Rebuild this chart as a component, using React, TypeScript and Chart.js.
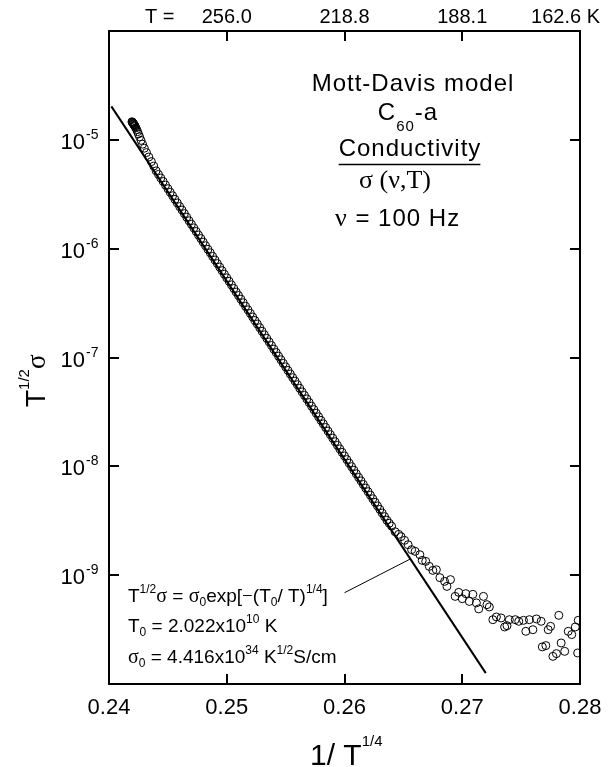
import React, { useEffect, useRef } from 'react';
import { Chart, registerables } from 'chart.js';

Chart.register(...registerables);

const SANS = 'Arial, "Liberation Sans", Helvetica, sans-serif';
const SERIF = '"Times New Roman", "Liberation Serif", "DejaVu Serif", serif';

// ---------- data (x = 1/T^(1/4), y as log10 of T^(1/2)·sigma) ----------
const invT4: number[] = [
  0.24195, 0.24198, 0.24201, 0.24204, 0.24207, 0.24210, 0.24213, 0.24216, 0.24219, 0.24222,
  0.24228, 0.24235, 0.24242, 0.24250, 0.24260, 0.24272, 0.24285, 0.24300, 0.24318, 0.24338,
  0.24360, 0.24380,
  0.2440, 0.2442, 0.2444, 0.2446, 0.2448, 0.2450, 0.2452, 0.2454, 0.2456, 0.2458,
  0.2460, 0.2462, 0.2464, 0.2466, 0.2468, 0.2470, 0.2472, 0.2474, 0.2476, 0.2478,
  0.2480, 0.2482, 0.2484, 0.2486, 0.2488, 0.2490, 0.2492, 0.2494, 0.2496, 0.2498,
  0.2500, 0.2502, 0.2504, 0.2506, 0.2508, 0.2510, 0.2512, 0.2514, 0.2516, 0.2518,
  0.2520, 0.2522, 0.2524, 0.2526, 0.2528, 0.2530, 0.2532, 0.2534, 0.2536, 0.2538,
  0.2540, 0.2542, 0.2544, 0.2546, 0.2548, 0.2550, 0.2552, 0.2554, 0.2556, 0.2558,
  0.2560, 0.2562, 0.2564, 0.2566, 0.2568, 0.2570, 0.2572, 0.2574, 0.2576, 0.2578,
  0.2580, 0.2582, 0.2584, 0.2586, 0.2588, 0.2590, 0.2592, 0.2594, 0.2596, 0.2598,
  0.2600, 0.2602, 0.2604, 0.2606, 0.2608, 0.2610, 0.2612, 0.2614, 0.2616, 0.2618,
  0.2620, 0.2622, 0.2624, 0.2626, 0.2628, 0.2630, 0.2632, 0.2634, 0.2636,
  0.2638, 0.2640, 0.2643, 0.2646, 0.2648, 0.2651, 0.2654, 0.2657, 0.2660, 0.2664,
  0.2666, 0.2669, 0.2672, 0.2675, 0.2678, 0.2681, 0.2685, 0.2687, 0.2690, 0.2694,
  0.2697, 0.2700, 0.2703, 0.2706, 0.2709, 0.2712, 0.2714, 0.2718, 0.2721, 0.2723,
  0.2726, 0.2729, 0.2733, 0.2736, 0.2738, 0.2740, 0.2745, 0.2748, 0.2752, 0.2754,
  0.2757, 0.2760, 0.2763, 0.2767, 0.2768, 0.2771, 0.2773, 0.2775, 0.2777, 0.2780,
  0.2782, 0.2784, 0.2787, 0.2790, 0.2793, 0.2796, 0.2798, 0.27985,
];

const log10SigmaT: number[] = [
  -4.834, -4.838, -4.842, -4.847, -4.852, -4.857, -4.862, -4.867, -4.872, -4.878,
  -4.890, -4.906, -4.925, -4.946, -4.972, -5.005, -5.040, -5.077, -5.117, -5.158,
  -5.200, -5.241,
  -5.285, -5.318, -5.351, -5.383, -5.416, -5.449, -5.482, -5.514, -5.547, -5.580,
  -5.613, -5.645, -5.678, -5.711, -5.744, -5.776, -5.809, -5.842, -5.875, -5.907,
  -5.940, -5.973, -6.006, -6.038, -6.071, -6.104, -6.137, -6.169, -6.202, -6.235,
  -6.268, -6.300, -6.333, -6.366, -6.399, -6.431, -6.464, -6.497, -6.530, -6.562,
  -6.595, -6.628, -6.661, -6.693, -6.726, -6.759, -6.792, -6.824, -6.857, -6.890,
  -6.923, -6.955, -6.988, -7.021, -7.054, -7.086, -7.119, -7.152, -7.185, -7.217,
  -7.250, -7.283, -7.316, -7.348, -7.381, -7.414, -7.447, -7.479, -7.512, -7.545,
  -7.578, -7.610, -7.643, -7.676, -7.709, -7.741, -7.774, -7.807, -7.840, -7.872,
  -7.905, -7.938, -7.971, -8.003, -8.036, -8.069, -8.102, -8.134, -8.167, -8.200,
  -8.233, -8.265, -8.298, -8.331, -8.364, -8.396, -8.429, -8.462, -8.495,
  -8.523, -8.550, -8.601, -8.625, -8.646, -8.680, -8.720, -8.766, -8.781, -8.812,
  -8.864, -8.873, -8.919, -8.956, -8.950, -9.023, -9.057, -9.103, -9.041, -9.195,
  -9.158, -9.216, -9.170, -9.241, -9.176, -9.255, -9.310, -9.195, -9.271, -9.292,
  -9.409, -9.384, -9.393, -9.476, -9.464, -9.409, -9.409, -9.424, -9.415, -9.516,
  -9.409, -9.501, -9.402, -9.424, -9.659, -9.647, -9.501, -9.470, -9.746, -9.721,
  -9.369, -9.623, -9.700, -9.516, -9.546, -9.476, -9.715, -9.415,
];

// Mott-Davis fit line end points and the leader line from the formula to the fit
const fitInvT4: number[] = [0.2402, 0.2720];
const fitSigmaT: number[] = [2.03e-5, 1.26e-10];
const leaderInvT4: number[] = [0.2600, 0.2656];
const leaderSigmaT: number[] = [6.9e-10, 1.41e-9];

// axes
const xTickValues: number[] = [0.24, 0.25, 0.26, 0.27, 0.28];
const yTickValues: number[] = [1e-10, 1e-9, 1e-8, 1e-7, 1e-6, 1e-5, 1e-4];
const yLabelExponents: number[] = [-5, -6, -7, -8, -9];
const topTickValues: number[] = [0.25, 0.26, 0.27, 0.28];
const topTickLabels: string[] = ['256.0', '218.8', '188.1', '162.6 K'];

type Run = { t: string; size: number; serif?: boolean; dy?: number };

function drawRuns(
  ctx: CanvasRenderingContext2D,
  runs: Run[],
  x: number,
  y: number,
  align: 'left' | 'center' | 'right',
  spacing = 0
) {
  const fontOf = (r: Run) => `${r.size}px ${r.serif ? SERIF : SANS}`;
  (ctx as any).letterSpacing = `${spacing}px`;
  const widths = runs.map((r) => {
    ctx.font = fontOf(r);
    return ctx.measureText(r.t).width;
  });
  const total = widths.reduce((a, b) => a + b, 0);
  const left = align === 'center' ? x - total / 2 : align === 'right' ? x - total : x;
  let cx = left;
  ctx.textAlign = 'left';
  ctx.textBaseline = 'alphabetic';
  runs.forEach((r, i) => {
    ctx.font = fontOf(r);
    ctx.fillText(r.t, cx, y + (r.dy || 0));
    cx += widths[i];
  });
  (ctx as any).letterSpacing = '0px';
  return { left, width: total };
}

const TICK = 10;

const annotatePlugin = {
  id: 'annotate',
  afterDraw(chart: any) {
    const ctx: CanvasRenderingContext2D = chart.ctx;
    const ys = chart.scales.y;
    const xs = chart.scales.x;
    const xt = chart.scales.x2;
    const area = chart.chartArea;
    ctx.save();
    ctx.fillStyle = '#000';
    ctx.strokeStyle = '#000';

    // inward tick marks, placed by the scales
    ctx.lineWidth = 2;
    ctx.beginPath();
    for (const v of xTickValues) {
      const px = Math.round(xs.getPixelForValue(v));
      ctx.moveTo(px, area.bottom);
      ctx.lineTo(px, area.bottom - TICK);
      ctx.moveTo(px, area.top);
      ctx.lineTo(px, area.top + TICK);
    }
    for (const v of yTickValues) {
      const py = Math.round(ys.getPixelForValue(v));
      ctx.moveTo(area.left, py);
      ctx.lineTo(area.left + TICK, py);
      ctx.moveTo(area.right, py);
      ctx.lineTo(area.right - TICK, py);
    }
    ctx.stroke();

    // y tick labels 10^n
    for (const e of yLabelExponents) {
      const py = ys.getPixelForValue(Math.pow(10, e));
      ctx.textBaseline = 'alphabetic';
      ctx.font = `22px ${SANS}`;
      ctx.textAlign = 'right';
      ctx.fillText('10', 85, py + 9);
      ctx.font = `14px ${SANS}`;
      ctx.textAlign = 'left';
      ctx.fillText(String(e), 86, py - 1);
    }

    // top temperature labels
    ctx.font = `20px ${SANS}`;
    ctx.textAlign = 'left';
    ctx.textBaseline = 'alphabetic';
    ctx.fillText('T =', 145, 23);
    topTickValues.forEach((v, i) => {
      const lab = topTickLabels[i];
      const px = xt.getPixelForValue(v);
      const w = ctx.measureText(lab).width;
      let left = px - w / 2;
      if (left + w > chart.width - 16) left = chart.width - 16 - w;
      ctx.fillText(lab, left, 23);
    });

    // x title
    drawRuns(ctx, [
      { t: '1/ T', size: 30 },
      { t: '1/4', size: 15, dy: -19 },
    ], 310, 765, 'left');

    // y title (rotated)
    ctx.save();
    ctx.translate(45, 407);
    ctx.rotate(-Math.PI / 2);
    drawRuns(ctx, [
      { t: 'T', size: 28 },
      { t: '1/2', size: 15, dy: -16 },
      { t: 'σ', size: 27, serif: true },
    ], 0, 0, 'left');
    ctx.restore();

    // upper right annotation
    drawRuns(ctx, [{ t: 'Mott-Davis model', size: 24 }], 413, 91, 'center', 1);
    drawRuns(ctx, [
      { t: 'C', size: 24 },
      { t: '60', size: 15, dy: 11 },
      { t: '-a', size: 24 },
    ], 408, 120, 'center', 1);
    const cond = drawRuns(ctx, [{ t: 'Conductivity', size: 24 }], 410, 156, 'center', 1);
    ctx.lineWidth = 1.5;
    ctx.beginPath();
    ctx.moveTo(cond.left, 164.5);
    ctx.lineTo(cond.left + cond.width - 1, 164.5);
    ctx.stroke();
    drawRuns(ctx, [{ t: 'σ (ν,T)', size: 26, serif: true }], 395, 188, 'center');
    drawRuns(ctx, [
      { t: 'ν', size: 26, serif: true },
      { t: ' = 100 Hz', size: 24 },
    ], 335, 226, 'left', 1);

    // lower left formula
    const s = 19, ss = 12;
    drawRuns(ctx, [
      { t: 'T', size: s },
      { t: '1/2', size: ss, dy: -9 },
      { t: 'σ', size: 20, serif: true },
      { t: ' = ', size: s },
      { t: 'σ', size: 20, serif: true },
      { t: '0', size: ss, dy: 4 },
      { t: 'exp[', size: s },
      { t: '−', size: s, serif: true },
      { t: '(T', size: s },
      { t: '0', size: ss, dy: 4 },
      { t: '/ T)', size: s },
      { t: '1/4', size: ss, dy: -9 },
      { t: ']', size: s },
    ], 128, 602, 'left');
    drawRuns(ctx, [
      { t: 'T', size: s },
      { t: '0', size: ss, dy: 4 },
      { t: ' = 2.022x10', size: s },
      { t: '10', size: ss, dy: -9 },
      { t: ' K', size: s },
    ], 128, 632, 'left');
    drawRuns(ctx, [
      { t: 'σ', size: 20, serif: true },
      { t: '0', size: ss, dy: 4 },
      { t: ' = 4.416x10', size: s },
      { t: '34', size: ss, dy: -9 },
      { t: ' K', size: s },
      { t: '1/2', size: ss, dy: -9 },
      { t: 'S/cm', size: s },
    ], 128, 663, 'left');

    ctx.restore();
  },
};

const noGrid = { display: false, drawOnChartArea: false, drawTicks: false };
const axisBorder = { display: true, color: '#000', width: 2 };

export default function App() {
  const ref = useRef<HTMLCanvasElement>(null);

  useEffect(() => {
    document.body.style.margin = '0';
    const canvas = ref.current;
    if (!canvas) return;

    const points = invT4.map((x, i) => ({ x, y: Math.pow(10, log10SigmaT[i]) }));
    const fit = fitInvT4.map((x, i) => ({ x, y: fitSigmaT[i] }));
    const leader = leaderInvT4.map((x, i) => ({ x, y: leaderSigmaT[i] }));

    const chart = new Chart(canvas, {
      type: 'scatter',
      data: {
        datasets: [
          {
            label: 'data',
            data: points,
            showLine: false,
            pointStyle: 'circle',
            pointRadius: 4,
            pointBorderWidth: 1,
            pointBorderColor: '#000',
            pointBackgroundColor: 'rgba(0,0,0,0)',
          },
          {
            label: 'fit',
            data: fit,
            showLine: true,
            borderColor: '#000',
            borderWidth: 2,
            pointRadius: 0,
          },
          {
            label: 'leader',
            data: leader,
            showLine: true,
            borderColor: '#000',
            borderWidth: 1,
            pointRadius: 0,
          },
        ],
      },
      options: {
        responsive: false,
        devicePixelRatio: 1,
        animation: false,
        events: [],
        layout: { padding: 0 },
        plugins: { legend: { display: false }, tooltip: { enabled: false } },
        scales: {
          x: {
            type: 'linear',
            position: 'bottom',
            min: 0.24,
            max: 0.28,
            afterBuildTicks: (sc: any) => {
              sc.ticks = xTickValues.map((value) => ({ value }));
            },
            afterFit: (sc: any) => {
              sc.height = 83;
            },
            ticks: {
              display: true,
              autoSkip: false,
              maxRotation: 0,
              padding: 11,
              color: '#000',
              font: { family: SANS, size: 22 },
              callback: (v: any) => Number(v).toFixed(2),
            },
            grid: noGrid,
            border: axisBorder,
          },
          x2: {
            type: 'linear',
            position: 'top',
            min: 0.24,
            max: 0.28,
            afterBuildTicks: (sc: any) => {
              sc.ticks = xTickValues.map((value) => ({ value }));
            },
            afterFit: (sc: any) => {
              sc.height = 31;
            },
            ticks: { display: false },
            grid: noGrid,
            border: axisBorder,
          },
          y: {
            type: 'logarithmic',
            position: 'left',
            min: 1e-10,
            max: 1e-4,
            afterBuildTicks: (sc: any) => {
              sc.ticks = yTickValues.map((value) => ({ value }));
            },
            afterFit: (sc: any) => {
              sc.width = 109;
            },
            ticks: { display: false },
            grid: noGrid,
            border: axisBorder,
          },
          y2: {
            type: 'logarithmic',
            position: 'right',
            min: 1e-10,
            max: 1e-4,
            afterBuildTicks: (sc: any) => {
              sc.ticks = yTickValues.map((value) => ({ value }));
            },
            afterFit: (sc: any) => {
              sc.width = 36;
            },
            ticks: { display: false },
            grid: noGrid,
            border: axisBorder,
          },
        },
      } as any,
      plugins: [annotatePlugin as any],
    });

    return () => chart.destroy();
  }, []);

  return (
    <div style={{ width: 616, height: 767, position: 'relative' }}>
      <canvas ref={ref} width={616} height={767} style={{ display: 'block' }} />
    </div>
  );
}
